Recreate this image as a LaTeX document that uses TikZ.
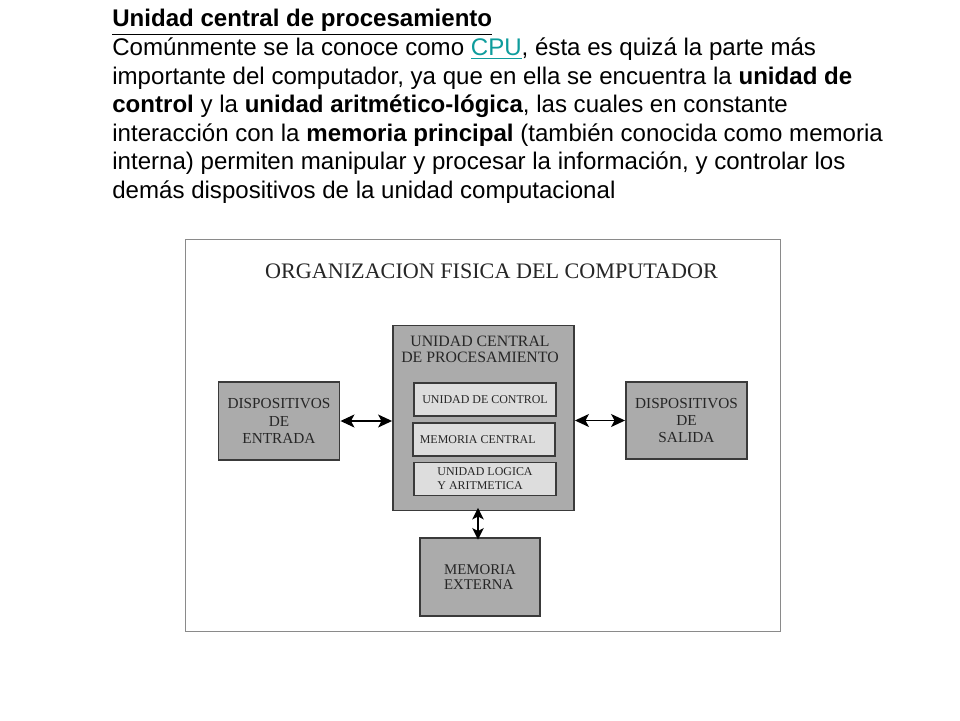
\documentclass[tikz,border=0pt]{standalone}
\usepackage{fontspec}
\setmainfont{Liberation Sans}
\newfontfamily\boxfont{Liberation Serif}
\usetikzlibrary{arrows.meta}
\definecolor{boxgray}{HTML}{ABABAB}
\definecolor{innergray}{HTML}{DDDDDD}
\definecolor{edgegray}{HTML}{3A3A3A}
\definecolor{framegray}{HTML}{8A8A8A}
\definecolor{cpulink}{HTML}{0E9C9C}

\begin{document}
\begin{tikzpicture}[
  x=0.02cm, y=-0.02cm,
  txtline/.style={anchor=base west, inner sep=0pt, font=\fontsize{13.7}{15}\selectfont},
  frame/.style={draw=framegray, line width=0.6pt, fill=white},
  unitbox/.style={draw=edgegray, line width=1.1pt, fill=boxgray, align=center,
    font=\boxfont\fontsize{8.7}{9.8}\selectfont, text=black!85},
  innerbox/.style={draw=edgegray, line width=0.8pt, fill=innergray, align=center,
    minimum width=2.84cm, minimum height=0.66cm, inner sep=0pt,
    font=\boxfont\fontsize{6.8}{8}\selectfont, text=black!85},
  biarrow/.style={{Stealth[length=2.8mm,width=2.6mm,inset=0.7mm]}-{Stealth[length=2.8mm,width=2.6mm,inset=0.7mm]}, line width=0.8pt},
  vbiarrow/.style={{Stealth[length=2.3mm,width=2.3mm,inset=0.6mm]}-{Stealth[length=2.3mm,width=2.3mm,inset=0.6mm]}, line width=0.8pt, shorten <=-0.07cm, shorten >=-0.05cm}
]
\useasboundingbox (0,0) rectangle (960,720);
\node[txtline] (l1) at (112,27) {\underline{\textbf{Unidad central de procesamiento}}};
\node[txtline] (l2) at (112,55.5) {Comúnmente se la conoce como \textcolor{cpulink}{\underline{CPU}}, ésta es quizá la parte más};
\node[txtline] (l3) at (112,84) {importante del computador, ya que en ella se encuentra la \textbf{unidad de}};
\node[txtline] (l4) at (112,112.5) {\textbf{control} y la \textbf{unidad aritmético-lógica}, las cuales en constante};
\node[txtline] (l5) at (112,141) {interacción con la \textbf{memoria principal} (también conocida como memoria};
\node[txtline] (l6) at (112,169.5) {interna) permiten manipular y procesar la información, y controlar los};
\node[txtline] (l7) at (112,198) {demás dispositivos de la unidad computacional};

\node[frame, minimum width=11.92cm, minimum height=7.86cm] (marco) at (483,435.5) {};
\node[font=\boxfont\fontsize{12.6}{14}\selectfont, text=black!85] (titulo) at (491.5,271) {ORGANIZACION FISICA DEL COMPUTADOR};

\node[unitbox, minimum width=2.42cm, minimum height=1.56cm] (entrada) at (279,421) {DISPOSITIVOS\\DE\\ENTRADA};
\node[unitbox, minimum width=3.62cm, minimum height=3.7cm] (cpu) at (483.5,418) {};
\node[font=\boxfont\fontsize{9}{9.2}\selectfont, align=center, text=black!85] (cputitulo) at (480,349) {UNIDAD CENTRAL\\DE PROCESAMIENTO};
\node[innerbox] (control) at (485,399.5) {UNIDAD DE CONTROL};
\node[innerbox] (memcentral) at (484,439.5) {MEMORIA CENTRAL\hspace{2.5mm}};
\node[innerbox, align=left] (logica) at (485,479) {UNIDAD LOGICA\\Y ARITMETICA\hspace{2mm}};
\node[unitbox, minimum width=2.42cm, minimum height=1.54cm] (salida) at (686.5,420.5) {DISPOSITIVOS\\DE\\SALIDA};
\node[unitbox, align=left, minimum width=2.4cm, minimum height=1.56cm, font=\boxfont\fontsize{8.45}{9}\selectfont] (memexterna) at (480,577) {MEMORIA\hspace{4mm}\\EXTERNA\hspace{4mm}};

\draw[biarrow] (entrada.east) -- (entrada.east -| cpu.west);
\draw[biarrow] (cpu.east |- salida.west) -- (salida.west);
\draw[vbiarrow] ([xshift=-0.04cm]memexterna.north |- cpu.south) -- ([xshift=-0.04cm]memexterna.north);
\end{tikzpicture}
\end{document}
